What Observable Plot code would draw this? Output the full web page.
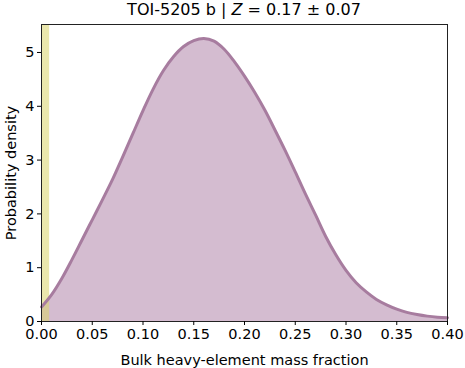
<!DOCTYPE html>
<html>
<head>
<meta charset="utf-8">
<script src="https://cdn.jsdelivr.net/npm/d3@7"></script>
<script src="https://cdn.jsdelivr.net/npm/@observablehq/plot@0.6"></script>
<style>
  body { margin: 0; background: #fff; }
  #wrap { width: 465px; font-family: "DejaVu Sans", sans-serif; }
  #title { height: 22px; box-sizing: border-box; padding-top: 1px; line-height: 18px; font-size: 16px; color: #000; text-align: center; padding-left: 41px; padding-right: 18px; white-space: nowrap; }
</style>
</head>
<body>
<div id="wrap">
  <div id="title">TOI-5205 b | <i>Z</i> = 0.17 ± 0.07</div>
  <div id="chart"></div>
</div>
<script>
// Bulk heavy-element mass fraction grid (x) and probability density (y)
const massFraction = [0.00,0.01,0.02,0.03,0.04,0.05,0.06,0.07,0.08,0.09,0.10,0.11,0.12,0.13,0.14,0.15,0.16,0.17,0.18,0.19,0.20,0.21,0.22,0.23,0.24,0.25,0.26,0.27,0.28,0.29,0.30,0.31,0.32,0.33,0.34,0.35,0.36,0.37,0.38,0.39,0.40];
const density      = [0.27,0.50,0.80,1.15,1.52,1.89,2.26,2.64,3.06,3.49,3.92,4.32,4.66,4.92,5.11,5.22,5.26,5.21,5.06,4.83,4.56,4.26,3.93,3.56,3.18,2.78,2.37,1.98,1.58,1.24,0.95,0.72,0.55,0.41,0.31,0.23,0.17,0.13,0.10,0.08,0.07];
// Shaded band near zero
const bandStart = [0.0];
const bandEnd   = [0.008];
const xTicks = [0.00,0.05,0.10,0.15,0.20,0.25,0.30,0.35,0.40];
const yTicks = [0,1,2,3,4,5];

const curve = massFraction.map((x, i) => ({x, y: density[i]}));
const band = bandStart.map((s, i) => ({x1: s, x2: bandEnd[i]}));

const chart = Plot.plot({
  width: 465,
  height: 346,
  marginTop: 2,
  marginBottom: 47,
  marginLeft: 41,
  marginRight: 18,
  style: { fontFamily: "DejaVu Sans, sans-serif", fontSize: "14.5px", color: "#000", background: "#fff" },
  x: { domain: [0, 0.40] },
  y: { domain: [0, 5.52] },
  marks: [
    Plot.areaY(curve, { x: "x", y: "y", fill: "#d4bcd0", curve: "catmull-rom" }),
    Plot.rect(band, { x1: "x1", x2: "x2", fill: "#d8d46a", fillOpacity: 0.55 }),
    Plot.lineY(curve, { x: "x", y: "y", stroke: "#a77c9f", strokeWidth: 3, curve: "catmull-rom" }),
    Plot.frame({ stroke: "#222", strokeWidth: 1 }),
    Plot.axisX({ ticks: xTicks, tickFormat: d3.format(".2f"), tickSize: 4, tickPadding: 3, label: "Bulk heavy-element mass fraction", labelAnchor: "center", labelArrow: "none", labelOffset: 43, stroke: "#000" }),
    Plot.axisY({ ticks: yTicks, tickFormat: d3.format("d"), tickSize: 4, tickPadding: 3, label: "Probability density", labelAnchor: "center", labelArrow: "none", labelOffset: 36, stroke: "#000" })
  ]
});
document.getElementById("chart").appendChild(chart);
</script>
</body>
</html>
